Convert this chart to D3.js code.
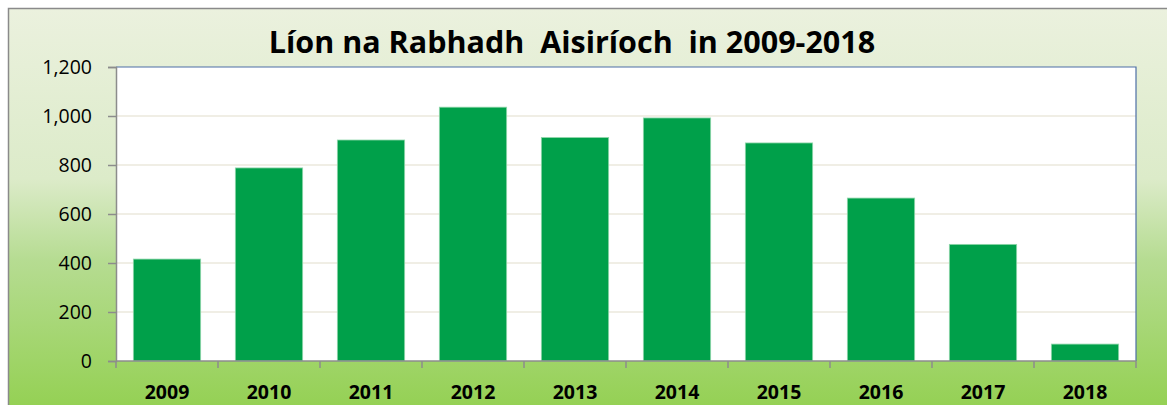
<!DOCTYPE html>
<html>
<head>
<meta charset="utf-8">
<script src="https://cdn.jsdelivr.net/npm/d3@7"></script>
<style>
  body { margin: 0; background: #fff; }
  svg { display: block; }
</style>
</head>
<body>
<script>
var years = ['2009', '2010', '2011', '2012', '2013', '2014', '2015', '2016', '2017', '2018'];
var counts = [416, 788, 902, 1036, 912, 992, 890, 665, 476, 69];
var yTicks = [0, 200, 400, 600, 800, 1000, 1200];
var title = 'Líon na Rabhadh  Aisiríoch  in 2009-2018';

var W = 1167, H = 405;
var plot = {left: 116, right: 1136, top: 67, bottom: 361};

var svg = d3.select('body').append('svg')
    .attr('width', W)
    .attr('height', H);

var grad = svg.append('defs').append('linearGradient')
    .attr('id', 'bg')
    .attr('x1', 0).attr('y1', 0).attr('x2', 0).attr('y2', 1);
grad.append('stop').attr('offset', '0%').attr('stop-color', '#ebf1de');
grad.append('stop').attr('offset', '42%').attr('stop-color', '#dcebc9');
grad.append('stop').attr('offset', '62%').attr('stop-color', '#b6dc92');
grad.append('stop').attr('offset', '100%').attr('stop-color', '#93d051');

// chart area background with frame
svg.append('rect')
    .attr('x', 8.5).attr('y', 8.5)
    .attr('width', W).attr('height', H)
    .style('fill', 'url(#bg)')
    .style('stroke', '#8a8a8a')
    .style('stroke-width', 1.5);

svg.append('rect')
    .attr('x', plot.left).attr('y', plot.top)
    .attr('width', plot.right - plot.left)
    .attr('height', plot.bottom - plot.top)
    .style('fill', '#fff');

var x = d3.scaleBand()
    .domain(years)
    .range([plot.left, plot.right])
    .paddingInner(0.34)
    .paddingOuter(0.17);

var y = d3.scaleLinear()
    .domain([0, 1200])
    .range([plot.bottom, plot.top]);

// gridlines
svg.selectAll('.grid')
    .data(yTicks.filter(function(d) { return d > 0 && d < 1200; }))
    .enter().append('line')
    .attr('class', 'grid')
    .attr('x1', plot.left).attr('x2', plot.right)
    .attr('y1', function(d) { return y(d); })
    .attr('y2', function(d) { return y(d); })
    .style('stroke', '#ebe8dc')
    .style('stroke-width', 1.5);

// bars
svg.selectAll('.bar')
    .data(counts)
    .enter().append('rect')
    .attr('class', 'bar')
    .attr('x', function(d, i) { return x(years[i]); })
    .attr('y', function(d) { return y(d); })
    .attr('width', x.bandwidth())
    .attr('height', function(d) { return plot.bottom - y(d); })
    .style('fill', '#00a04a')
    .style('stroke', '#8fd6aa')
    .style('stroke-width', 0.8);

// top and right border of plot area
svg.append('path')
    .attr('d', 'M' + plot.left + ',' + plot.top + 'H' + plot.right + 'V' + plot.bottom)
    .style('fill', 'none')
    .style('stroke', '#4d6fa6')
    .style('stroke-width', 1.2);

// y axis
var yAxis = svg.append('g')
    .attr('transform', 'translate(' + plot.left + ',0)')
    .call(d3.axisLeft(y).tickValues(yTicks).tickSize(8).tickPadding(16)
        .tickFormat(d3.format(',')));
yAxis.select('.domain').style('stroke', '#8c8c8c').style('stroke-width', 1.5);
yAxis.selectAll('.tick line').style('stroke', '#8c8c8c').style('stroke-width', 1.5);
yAxis.selectAll('text')
    .style('font-family', 'Open Sans, sans-serif')
    .style('font-size', '19.5px')
    .style('fill', '#000');

// x axis: ticks between categories
var xg = svg.append('g');
xg.append('line')
    .attr('x1', plot.left).attr('x2', plot.right)
    .attr('y1', plot.bottom).attr('y2', plot.bottom)
    .style('stroke', '#8c8c8c').style('stroke-width', 1.5);
xg.selectAll('.xtick')
    .data(d3.range(years.length + 1))
    .enter().append('line')
    .attr('class', 'xtick')
    .attr('x1', function(i) { return plot.left + (plot.right - plot.left) * i / years.length; })
    .attr('x2', function(i) { return plot.left + (plot.right - plot.left) * i / years.length; })
    .attr('y1', plot.bottom).attr('y2', plot.bottom + 7)
    .style('stroke', '#8c8c8c').style('stroke-width', 1.5);
xg.selectAll('.xlabel')
    .data(years)
    .enter().append('text')
    .attr('class', 'xlabel')
    .attr('x', function(d) { return x(d) + x.bandwidth() / 2; })
    .attr('y', 399)
    .attr('text-anchor', 'middle')
    .style('font-family', 'Open Sans, sans-serif')
    .style('font-weight', 'bold')
    .style('font-size', '19.5px')
    .text(function(d) { return d; });

svg.append('text')
    .attr('x', 572)
    .attr('y', 53)
    .attr('text-anchor', 'middle')
    .style('font-family', 'Open Sans, sans-serif')
    .style('font-weight', 'bold')
    .style('font-size', '30.5px')
    .style('white-space', 'pre')
    .text(title);
</script>
</body>
</html>
